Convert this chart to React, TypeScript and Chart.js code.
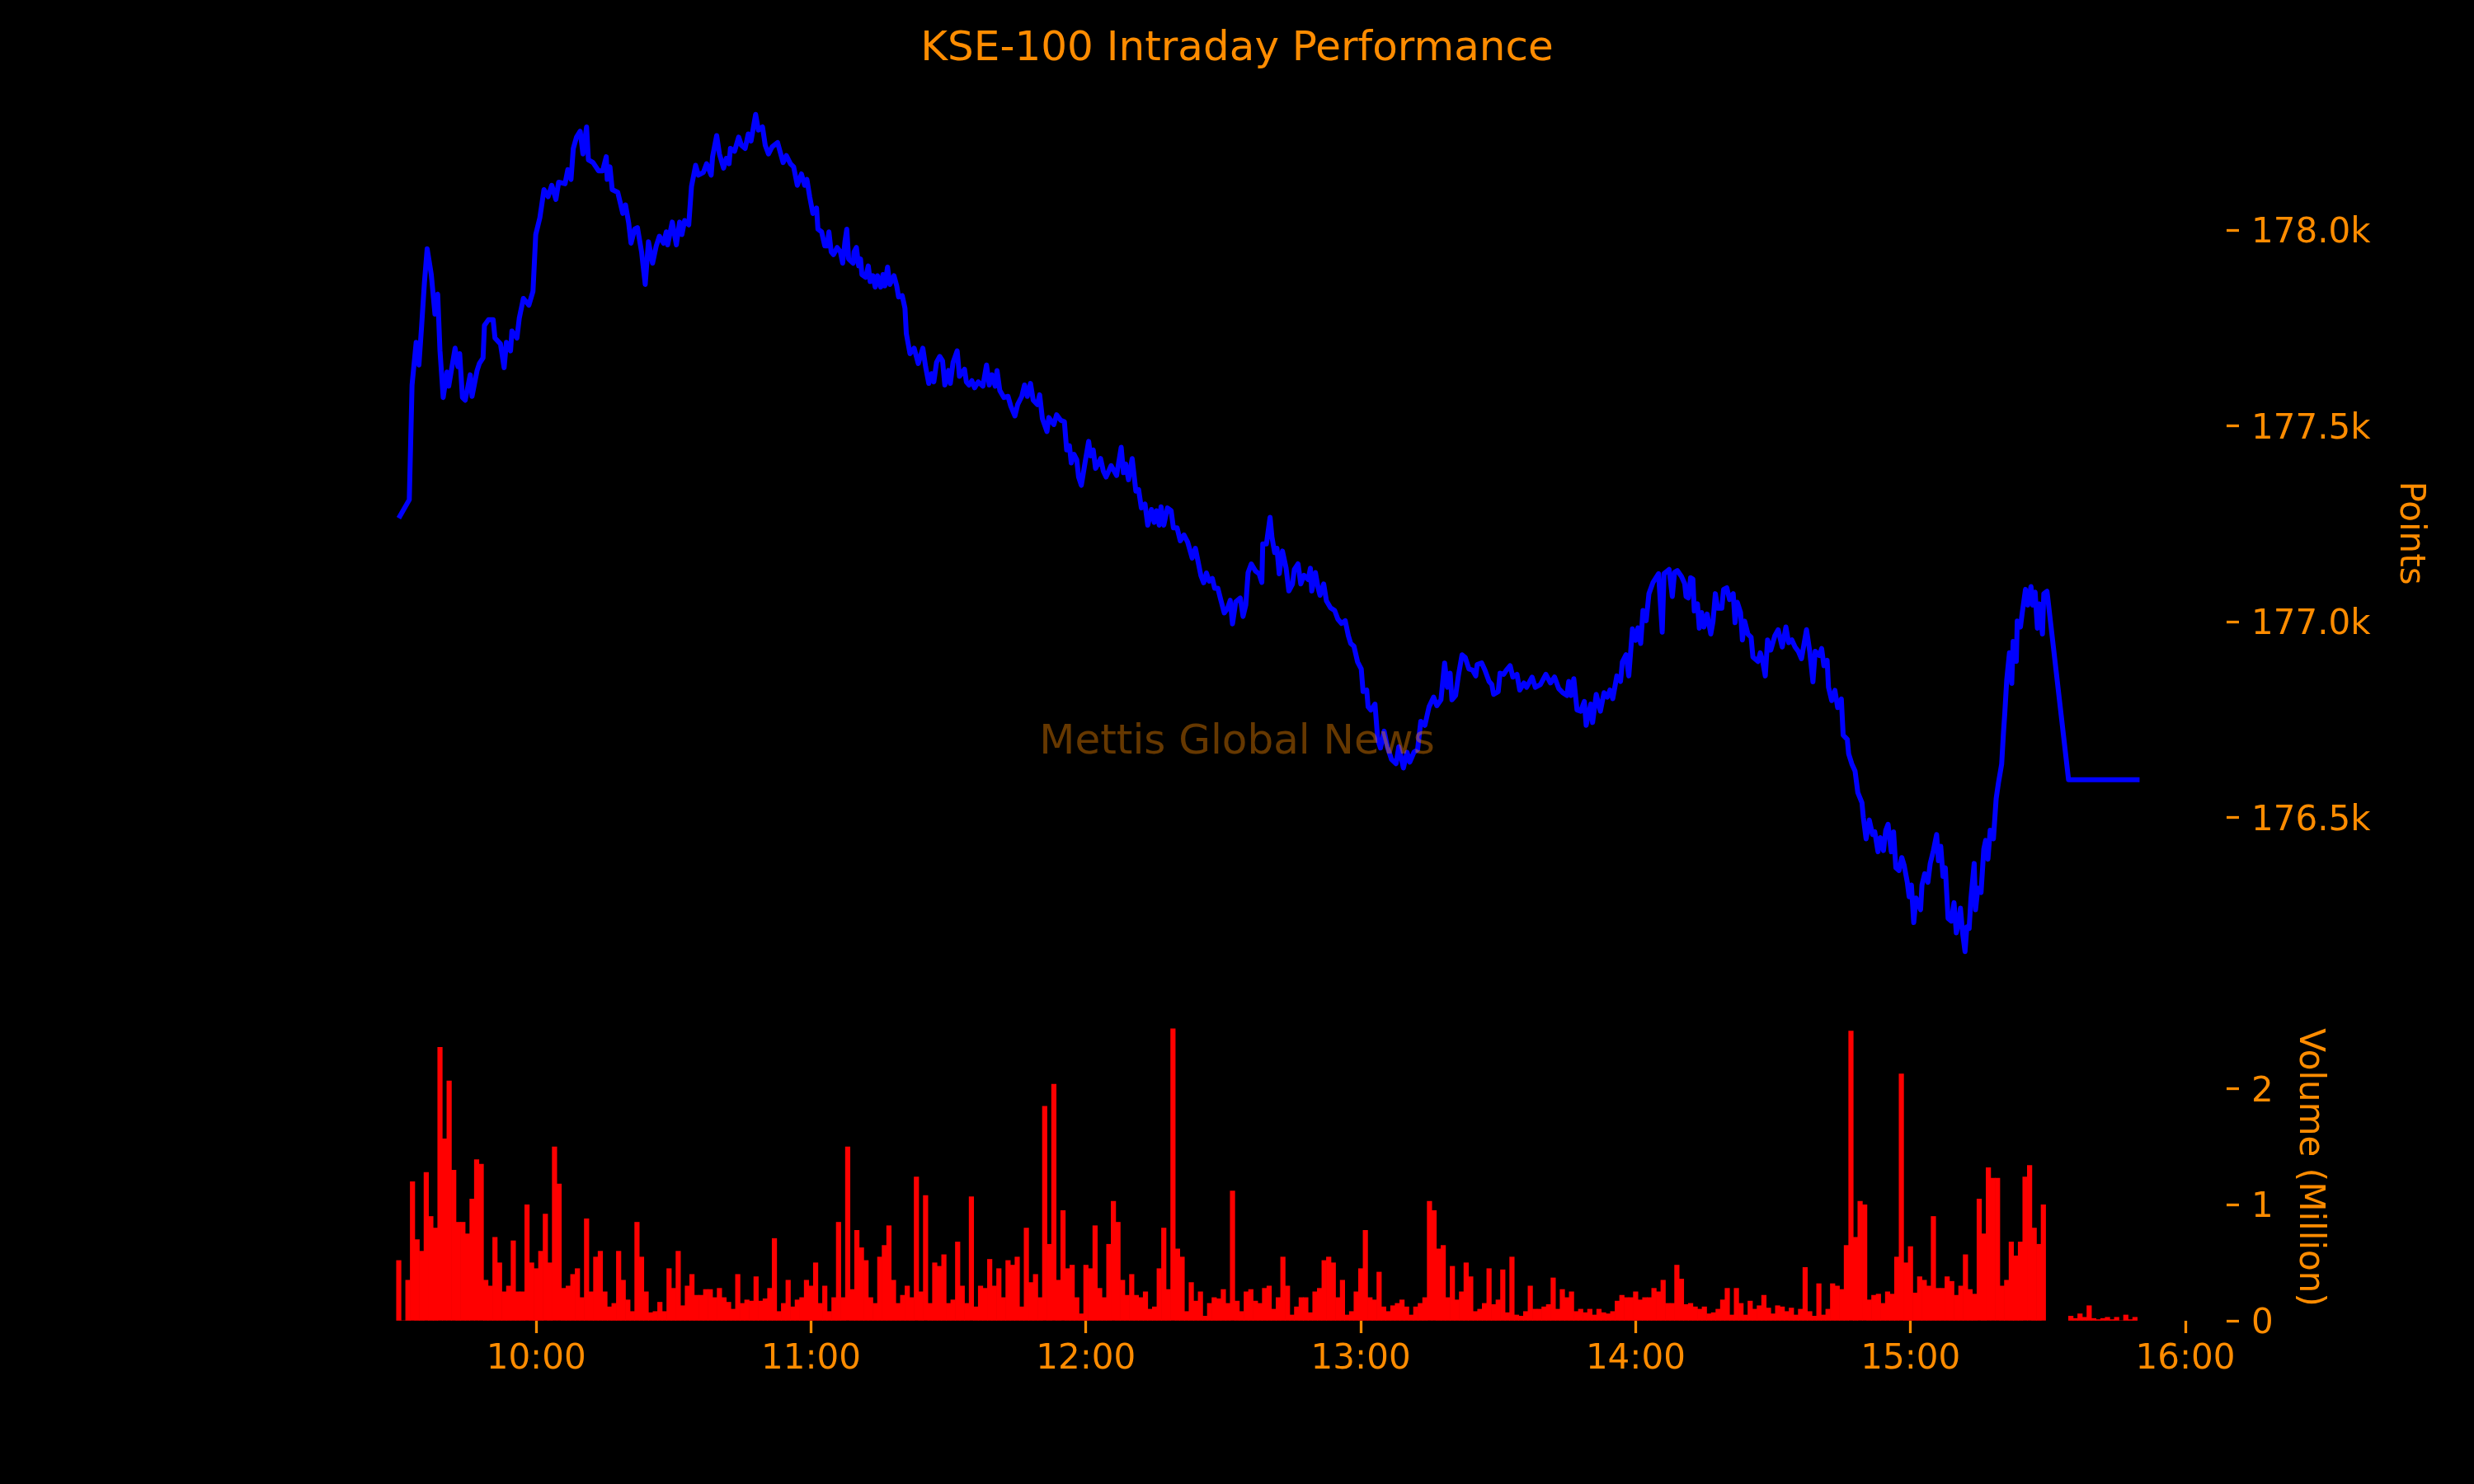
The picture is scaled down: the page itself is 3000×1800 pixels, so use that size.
import { useEffect, useRef } from "react";
import { Chart, registerables } from "chart.js";

Chart.register(...registerables);

const ORANGE = "#ff8c00";
const FONT = "DejaVu Sans";
const TITLE = "KSE-100 Intraday Performance";
const WATERMARK = "Mettis Global News";

// axis tick values
const priceTicks = [176500, 177000, 177500, 178000];
const volumeTicks = [0, 1, 2];
const timeTicks = [600, 660, 720, 780, 840, 900, 960];

// KSE-100 ticks: [minutes after midnight, index points]
const priceOpen: [number, number][] = [
  [570.0, 177265], [572.3, 177312], [572.9, 177605], [573.8, 177714], [574.4, 177656], [575.0, 177757],
  [575.6, 177866], [576.2, 177953], [577.1, 177887], [577.9, 177786], [578.5, 177837], [579.0, 177692],
  [579.7, 177573], [580.5, 177638], [580.9, 177602], [582.3, 177699], [582.9, 177652], [583.3, 177685],
  [583.9, 177573], [584.5, 177566], [585.6, 177631], [586.0, 177576], [587.1, 177642], [587.6, 177660],
  [588.4, 177674], [588.7, 177757], [589.6, 177772], [590.6, 177772], [591.0, 177725], [592.2, 177710],
  [593.0, 177649], [593.5, 177714], [594.4, 177692], [594.7, 177743], [595.8, 177725], [596.3, 177775],
  [597.2, 177826], [598.4, 177809], [599.3, 177844], [599.9, 177989], [600.8, 178032], [601.7, 178104],
  [602.6, 178086], [603.4, 178115], [604.3, 178079], [604.9, 178123], [606.3, 178119], [606.9, 178155],
  [607.6, 178130], [608.1, 178209], [608.8, 178238], [609.6, 178253], [610.2, 178195], [611.0, 178264],
  [611.4, 178180], [612.4, 178173], [613.6, 178152], [614.5, 178152], [615.3, 178188], [615.5, 178130],
  [616.1, 178162], [616.6, 178104], [617.8, 178097], [618.4, 178068], [618.9, 178043], [619.5, 178065],
  [620.2, 178018], [620.7, 177967], [621.5, 178003], [622.1, 178007], [623.0, 177945], [623.8, 177862],
  [624.5, 177971], [625.4, 177916], [626.2, 177960], [626.9, 177985], [627.8, 177967], [628.4, 177996],
  [628.7, 177963], [629.7, 178021], [630.6, 177963], [631.3, 178021], [631.8, 177989], [632.4, 178025],
  [633.3, 178014], [633.9, 178112], [634.8, 178166], [635.4, 178141], [636.5, 178148], [637.2, 178170],
  [638.2, 178141], [638.5, 178188], [639.4, 178242], [640.0, 178195], [640.9, 178159], [641.5, 178184],
  [642.1, 178170], [642.4, 178209], [643.3, 178202], [644.2, 178238], [644.8, 178217], [645.6, 178209],
  [646.3, 178246], [646.9, 178228], [647.9, 178296], [648.5, 178256], [649.4, 178264], [650.0, 178217],
  [650.7, 178195], [651.5, 178213], [652.7, 178224], [653.9, 178173], [654.6, 178191], [655.5, 178170],
  [656.2, 178162], [657.0, 178115], [657.9, 178144], [658.6, 178115], [659.1, 178130], [659.7, 178086],
  [660.4, 178043], [661.2, 178057], [661.5, 178003], [662.3, 177996], [663.0, 177960],
];

const priceMidday: [number, number][] = [
  [663.5, 177960], [663.9, 177996], [664.4, 177945], [664.9, 177938], [665.7, 177956], [666.4, 177945],
  [666.9, 177916], [667.4, 177971], [667.8, 178003], [668.2, 177927], [669.2, 177916], [669.4, 177945],
  [669.9, 177956], [670.4, 177909], [670.8, 177927], [671.1, 177887], [671.9, 177880], [672.5, 177909],
  [672.9, 177869], [673.5, 177884], [674.0, 177855], [674.5, 177884], [675.2, 177855], [675.7, 177887],
  [676.1, 177858], [676.7, 177906], [677.2, 177862], [678.1, 177884], [678.7, 177858], [679.1, 177830],
  [679.9, 177833], [680.5, 177801], [680.8, 177736], [681.6, 177685], [682.5, 177699], [683.4, 177660],
  [684.4, 177699], [685.0, 177652], [685.7, 177609], [686.3, 177634], [686.8, 177613], [687.4, 177663],
  [688.1, 177678], [688.7, 177667], [689.2, 177605], [690.0, 177642], [690.4, 177609], [691.0, 177663],
  [691.9, 177692], [692.4, 177627], [693.5, 177645], [693.9, 177613], [694.5, 177605], [695.1, 177616],
  [695.7, 177598], [696.5, 177613], [697.5, 177602], [698.3, 177656], [698.9, 177605], [699.5, 177631],
  [700.2, 177602], [700.6, 177642], [701.2, 177591], [702.1, 177573], [703.0, 177576], [703.6, 177551],
  [704.5, 177526], [705.1, 177555], [706.0, 177576], [706.6, 177605], [707.2, 177576], [707.9, 177609],
  [708.5, 177566], [709.4, 177555], [709.9, 177580], [710.5, 177519], [711.5, 177486], [711.9, 177522],
  [713.0, 177504], [713.6, 177529], [714.5, 177515], [715.3, 177511], [715.8, 177439], [716.4, 177450],
  [716.8, 177406], [717.4, 177428], [718.0, 177414], [718.4, 177370], [719.0, 177349], [719.8, 177406],
  [720.6, 177461], [721.0, 177424], [721.6, 177439], [722.1, 177392], [723.2, 177417], [723.8, 177385],
  [724.4, 177370], [725.5, 177399], [726.7, 177374], [727.7, 177446], [728.2, 177381], [728.7, 177403],
  [729.3, 177363], [730.1, 177417], [730.9, 177334], [731.5, 177338], [732.1, 177291], [732.9, 177301],
  [733.5, 177247], [734.3, 177287], [734.9, 177254], [735.4, 177284], [736.0, 177247], [736.4, 177294],
  [737.0, 177247], [737.8, 177291], [738.6, 177284], [739.1, 177240], [739.9, 177240], [740.6, 177207],
  [741.4, 177222], [742.2, 177204], [743.2, 177163], [743.9, 177188], [744.5, 177153], [745.1, 177118],
  [745.7, 177100], [746.3, 177125], [746.9, 177104], [747.6, 177111], [748.1, 177086], [748.8, 177086],
  [749.4, 177058], [750.2, 177023], [750.9, 177034], [751.5, 177055], [752.0, 176995], [752.7, 177051],
];

const priceAfternoon: [number, number][] = [
  [753.7, 177061], [754.3, 177014], [754.9, 177043], [755.4, 177126], [756.1, 177148], [757.0, 177130],
  [757.8, 177123], [758.4, 177101], [758.6, 177199], [759.4, 177199], [760.2, 177267], [760.6, 177217],
  [761.2, 177177], [761.7, 177188], [762.2, 177123], [762.9, 177181], [763.7, 177137], [764.3, 177079],
  [765.1, 177097], [765.5, 177134], [766.3, 177148], [766.9, 177097], [767.6, 177119], [768.5, 177108],
  [769.0, 177137], [769.3, 177079], [770.1, 177126], [770.7, 177086], [771.1, 177068], [771.9, 177097],
  [772.5, 177054], [773.4, 177036], [774.3, 177029], [775.0, 177007], [775.8, 176996], [776.6, 177003],
  [777.3, 176964], [777.8, 176945], [778.5, 176938], [779.3, 176898], [780.1, 176880], [780.5, 176822],
  [781.3, 176826], [781.6, 176783], [782.2, 176775], [783.1, 176790], [783.7, 176700], [784.3, 176678],
  [785.1, 176721], [785.8, 176681], [786.7, 176649], [787.7, 176638], [788.3, 176681], [789.3, 176627],
  [790.1, 176667], [790.7, 176642], [791.6, 176667], [792.4, 176674], [793.1, 176746], [794.0, 176736],
  [794.9, 176783], [795.9, 176808], [796.6, 176786], [797.5, 176801], [798.3, 176895], [798.9, 176833],
  [799.5, 176869], [799.9, 176801], [800.7, 176812], [801.3, 176862], [802.1, 176916], [802.8, 176909],
  [803.6, 176880], [804.4, 176877], [805.1, 176862], [805.4, 176891], [806.4, 176895], [807.1, 176877],
  [808.0, 176848], [808.6, 176840], [809.0, 176815], [810.0, 176822], [810.4, 176869], [811.2, 176866],
  [811.8, 176877], [812.6, 176888], [813.2, 176859], [814.1, 176866], [814.7, 176826], [815.6, 176844],
  [816.2, 176833], [817.4, 176859], [818.1, 176833], [819.2, 176840], [820.4, 176866], [821.4, 176844],
  [822.3, 176859], [823.2, 176830], [824.1, 176819], [825.0, 176812], [825.4, 176848], [825.9, 176812],
  [826.5, 176855], [827.2, 176775], [828.0, 176772], [828.8, 176797], [829.2, 176736], [830.2, 176790],
  [830.6, 176743], [831.4, 176815], [832.3, 176772], [833.1, 176819], [833.8, 176808], [834.4, 176826],
  [835.0, 176804], [835.9, 176862], [836.7, 176848], [837.1, 176898], [837.9, 176916], [838.5, 176862],
  [839.3, 176982], [840.0, 176953], [840.5, 176985], [841.1, 176945], [841.6, 177029], [842.3, 177003],
  [842.9, 177072], [843.8, 177101], [844.4, 177112], [845.0, 177123], [845.8, 176974], [846.2, 177123],
  [847.3, 177134], [848.0, 177065],
];

const priceClose: [number, number][] = [
  [848.5, 177127], [849.1, 177131], [850.0, 177116], [850.7, 177098], [851.0, 177065], [851.5, 177061],
  [852.0, 177113], [852.5, 177109], [852.8, 177028], [853.5, 177046], [853.9, 176984], [854.4, 177024],
  [854.9, 176987], [855.6, 177020], [856.4, 176969], [856.9, 177002], [857.4, 177072], [857.9, 177035],
  [858.8, 177035], [859.2, 177083], [859.9, 177087], [860.5, 177057], [861.3, 177072], [861.7, 176998],
  [862.2, 177050], [862.9, 177024], [863.3, 176954], [863.8, 177002], [864.5, 176969], [865.2, 176961],
  [865.6, 176910], [866.7, 176899], [867.2, 176921], [867.7, 176902], [868.3, 176862], [868.8, 176954],
  [869.5, 176928], [870.4, 176965], [871.1, 176980], [872.0, 176936], [872.8, 176987], [873.4, 176947],
  [874.1, 176954], [874.8, 176936], [875.5, 176925], [876.2, 176906], [877.3, 176980], [878.0, 176925],
  [878.7, 176847], [879.2, 176925], [880.1, 176914], [880.6, 176932], [881.1, 176888], [881.8, 176902],
  [882.1, 176833], [882.8, 176799], [883.5, 176825], [884.1, 176781], [884.9, 176803], [885.3, 176711],
  [886.2, 176700], [886.5, 176663], [887.2, 176637], [887.9, 176619], [888.5, 176564], [889.4, 176538],
  [889.7, 176501], [890.3, 176446], [891.0, 176494], [891.7, 176457], [892.2, 176464], [892.9, 176413],
  [893.4, 176449], [894.1, 176416], [894.6, 176468], [895.1, 176483], [895.8, 176413], [896.3, 176464],
  [896.8, 176372], [897.5, 176365], [898.1, 176398], [898.6, 176379], [899.3, 176335], [899.7, 176298],
  [900.2, 176328], [900.7, 176232], [901.2, 176295], [902.2, 176265], [902.5, 176328], [903.1, 176357],
  [903.8, 176335], [904.3, 176383], [905.0, 176416], [905.7, 176457], [906.1, 176390], [906.6, 176427],
  [907.1, 176350], [907.6, 176372], [908.2, 176243], [908.9, 176236], [909.5, 176283], [910.0, 176206],
  [910.5, 176232], [910.9, 176269], [911.4, 176203], [911.9, 176158], [912.3, 176221], [912.8, 176217],
  [913.2, 176295], [913.9, 176383], [914.2, 176265], [914.7, 176320], [915.4, 176309], [916.0, 176420],
  [916.4, 176442], [916.9, 176394], [917.4, 176468], [918.1, 176446], [918.7, 176549], [919.2, 176589],
  [919.9, 176637], [920.3, 176718], [920.6, 176770], [921.0, 176851], [921.6, 176921], [922.1, 176843],
  [922.4, 176950], [923.1, 176899], [923.3, 177002], [924.0, 176987], [924.4, 177024], [925.1, 177083],
  [925.6, 177043], [926.3, 177090], [926.7, 177043], [927.2, 177076], [927.7, 176984], [928.1, 177046],
  [928.8, 176969], [929.1, 177072], [929.8, 177078], [934.5, 176597], [950.0, 176597],
];

// traded volume per minute, in millions, starting at 9:30
const volStart = 570;
const vol0930 = [
  0.52, 0, 0.35, 1.2, 0.7, 0.6, 1.28, 0.9, 0.8, 2.36, 1.57, 2.07, 1.3, 0.85, 0.85,
  0.75, 1.05, 1.39, 1.35, 0.35, 0.3, 0.72, 0.5, 0.25, 0.3, 0.69, 0.25, 0.25, 1.0, 0.5,
];
const vol1000 = [
  0.45, 0.6, 0.92, 0.5, 1.5, 1.18, 0.28, 0.3, 0.4, 0.45, 0.2, 0.88, 0.25, 0.55, 0.6,
  0.25, 0.12, 0.15, 0.6, 0.35, 0.18, 0.08, 0.85, 0.55, 0.25, 0.07, 0.08, 0.16, 0.08, 0.45,
  0.28, 0.6, 0.13, 0.3, 0.4, 0.22, 0.22, 0.27, 0.27, 0.2, 0.28, 0.2, 0.16, 0.1, 0.4,
  0.15, 0.18, 0.17, 0.38, 0.17, 0.19, 0.28, 0.71, 0.08, 0.15, 0.35, 0.12, 0.18, 0.2, 0.35,
];
const vol1100 = [
  0.3, 0.5, 0.15, 0.3, 0.08, 0.2, 0.85, 0.2, 1.5, 0.27, 0.78, 0.63, 0.52, 0.2, 0.15,
  0.55, 0.65, 0.82, 0.35, 0.15, 0.22, 0.3, 0.2, 1.24, 0.25, 1.08, 0.15, 0.5, 0.47, 0.57,
  0.15, 0.18, 0.68, 0.3, 0.15, 1.07, 0.12, 0.3, 0.28, 0.53, 0.3, 0.45, 0.2, 0.52, 0.48,
  0.55, 0.12, 0.8, 0.33, 0.4, 0.2, 1.85, 0.66, 2.04, 0.35, 0.95, 0.45, 0.48, 0.2, 0.06,
];
const vol1200 = [
  0.48, 0.45, 0.82, 0.28, 0.2, 0.66, 1.03, 0.85, 0.35, 0.22, 0.4, 0.22, 0.2, 0.25, 0.1,
  0.12, 0.45, 0.8, 0.27, 2.52, 0.62, 0.55, 0.08, 0.33, 0.17, 0.25, 0.04, 0.15, 0.2, 0.19,
  0.27, 0.15, 1.12, 0.17, 0.08, 0.25, 0.27, 0.17, 0.15, 0.28, 0.3, 0.1, 0.2, 0.55, 0.3,
  0.05, 0.12, 0.2, 0.2, 0.07, 0.25, 0.28, 0.52, 0.55, 0.5, 0.2, 0.35, 0.05, 0.08, 0.25,
];
const vol1300 = [
  0.45, 0.78, 0.2, 0.18, 0.42, 0.12, 0.08, 0.13, 0.15, 0.18, 0.12, 0.05, 0.12, 0.15, 0.2,
  1.03, 0.95, 0.62, 0.65, 0.2, 0.47, 0.18, 0.25, 0.5, 0.38, 0.08, 0.1, 0.15, 0.45, 0.14,
  0.18, 0.44, 0.07, 0.55, 0.05, 0.04, 0.08, 0.3, 0.1, 0.1, 0.12, 0.14, 0.37, 0.1, 0.27,
  0.2, 0.25, 0.08, 0.1, 0.07, 0.1, 0.05, 0.1, 0.07, 0.06, 0.08, 0.17, 0.22, 0.2, 0.2,
];
const vol1400 = [
  0.25, 0.18, 0.2, 0.2, 0.28, 0.25, 0.35, 0.15, 0.15, 0.48, 0.36, 0.14, 0.15, 0.12, 0.1,
  0.12, 0.06, 0.07, 0.1, 0.18, 0.28, 0.05, 0.28, 0.15, 0.05, 0.17, 0.1, 0.13, 0.22, 0.11,
  0.06, 0.13, 0.12, 0.08, 0.11, 0.05, 0.1, 0.46, 0.08, 0.04, 0.32, 0.05, 0.1, 0.32, 0.3,
  0.27, 0.65, 2.5, 0.72, 1.03, 1.0, 0.18, 0.22, 0.23, 0.15, 0.25, 0.23, 0.55, 2.13, 0.5,
];
const vol1500 = [
  0.64, 0.24, 0.38, 0.35, 0.3, 0.9, 0.28, 0.28, 0.38, 0.34, 0.22, 0.3, 0.57, 0.27, 0.23,
  1.05, 0.75, 1.32, 1.23, 1.23, 0.3, 0.35, 0.68, 0.56, 0.68, 1.24, 1.34, 0.8, 0.66, 1.0,
];
// after-market trickle from 15:35
const volTailStart = 935;
const volTail = [0.04, 0.02, 0.06, 0.03, 0.13, 0.02, 0.01, 0.02, 0.03, 0.01, 0.03, 0, 0.05, 0.01, 0.03];

const pricePoints = [...priceOpen, ...priceMidday, ...priceAfternoon, ...priceClose].map(([x, y]) => ({ x, y }));
const volumeMain = [...vol0930, ...vol1000, ...vol1100, ...vol1200, ...vol1300, ...vol1400, ...vol1500];
const volumePoints = [
  ...volumeMain.map((y, i) => ({ x: volStart + i, y })),
  ...volTail.map((y, i) => ({ x: volTailStart + i, y })),
];

// matplotlib-like 5% margins
const tMin = Math.min(pricePoints[0].x, volumePoints[0].x);
const tMax = Math.max(pricePoints[pricePoints.length - 1].x, volumePoints[volumePoints.length - 1].x);
const tPad = (tMax - tMin) * 0.05;
const pVals = pricePoints.map((p) => p.y);
const pMin = Math.min(...pVals);
const pMax = Math.max(...pVals);
const pPad = (pMax - pMin) * 0.05;
const vMax = Math.max(...volumePoints.map((p) => p.y)) * 1.05;

const tickFont = { family: FONT, size: 42 };

const figureText = {
  id: "figureText",
  afterDraw(chart: any) {
    const { ctx } = chart;
    const cx = chart.width / 2;
    ctx.save();
    ctx.textAlign = "center";
    ctx.textBaseline = "alphabetic";
    ctx.font = `50px "${FONT}"`;
    ctx.fillStyle = ORANGE;
    ctx.fillText(TITLE, cx, 73);
    ctx.fillStyle = "rgba(255, 140, 0, 0.4)";
    ctx.fillText(WATERMARK, cx, 914);
    ctx.restore();
  },
};

function axisTicks() {
  return {
    drawOnChartArea: false,
    drawTicks: true,
    tickLength: 15,
    tickWidth: 3.3,
    tickColor: ORANGE,
  };
}

// fixed tick positions (Chart.js would otherwise spread ticks between min and max)
const fixedTicks = (values: number[]) => (scale: any) => {
  scale.ticks = values.map((value) => ({ value }));
};

function App() {
  const priceRef = useRef<HTMLCanvasElement | null>(null);
  const volumeRef = useRef<HTMLCanvasElement | null>(null);

  useEffect(() => {
    if (!priceRef.current || !volumeRef.current) return;

    const priceChart = new Chart(priceRef.current, {
      type: "line",
      data: {
        datasets: [
          {
            data: pricePoints,
            borderColor: "#0000ff",
            borderWidth: 6,
            pointRadius: 0,
            tension: 0,
            borderJoinStyle: "round",
          },
        ],
      },
      options: {
        animation: false,
        responsive: false,
        devicePixelRatio: 1,
        layout: { padding: { left: 378, top: 88, right: 53, bottom: 595 } },
        plugins: { legend: { display: false }, tooltip: { enabled: false } },
        scales: {
          x: { type: "linear", display: false, min: tMin - tPad, max: tMax + tPad },
          y: {
            position: "right",
            min: pMin - pPad,
            max: pMax + pPad,
            afterBuildTicks: fixedTicks(priceTicks),
            afterFit: (scale: any) => {
              scale.width = 247;
            },
            border: { display: false },
            grid: axisTicks(),
            ticks: {
              color: ORANGE,
              font: tickFont,
              padding: 15,
              labelOffset: 4,
              autoSkip: false,
              callback: (v: any) => (Number(v) / 1000).toFixed(1) + "k",
            },
            title: { display: true, text: "Points", color: ORANGE, font: tickFont, padding: 0 },
          },
        },
      } as any,
      plugins: [figureText],
    });

    const volumeChart = new Chart(volumeRef.current, {
      type: "bar",
      data: {
        datasets: [
          {
            data: volumePoints,
            backgroundColor: "#ff0000",
            borderWidth: 0,
            barPercentage: 1.0,
            categoryPercentage: 1.0,
          },
        ],
      },
      options: {
        animation: false,
        responsive: false,
        devicePixelRatio: 1,
        layout: { padding: { left: 378, top: 1230, right: 175, bottom: 0 } },
        plugins: { legend: { display: false }, tooltip: { enabled: false } },
        scales: {
          x: {
            type: "linear",
            offset: false,
            min: tMin - tPad,
            max: tMax + tPad,
            afterBuildTicks: fixedTicks(timeTicks),
            afterFit: (scale: any) => {
              scale.height = 198;
            },
            border: { display: false },
            grid: { ...axisTicks(), offset: false },
            ticks: {
              color: ORANGE,
              font: tickFont,
              padding: 7,
              maxRotation: 0,
              autoSkip: false,
              callback: (v: any) => `${Math.round(Number(v) / 60)}:00`,
            },
          },
          y: {
            position: "right",
            min: 0,
            max: vMax,
            afterBuildTicks: fixedTicks(volumeTicks),
            afterFit: (scale: any) => {
              scale.width = 125;
            },
            border: { display: false },
            grid: axisTicks(),
            ticks: {
              color: ORANGE,
              font: tickFont,
              padding: 15,
              labelOffset: 4,
              autoSkip: false,
            },
            title: { display: true, text: "Volume (Million)", color: ORANGE, font: tickFont, padding: 0 },
          },
        },
      } as any,
    });

    return () => {
      priceChart.destroy();
      volumeChart.destroy();
    };
  }, []);

  return (
    <div
      style={{
        position: "fixed",
        left: 0,
        top: 0,
        width: 3000,
        height: 1800,
        background: "#000",
        overflow: "hidden",
      }}
    >
      <canvas ref={priceRef} width={3000} height={1800} style={{ position: "absolute", left: 0, top: 0 }} />
      <canvas ref={volumeRef} width={3000} height={1800} style={{ position: "absolute", left: 0, top: 0 }} />
    </div>
  );
}

export default App;
